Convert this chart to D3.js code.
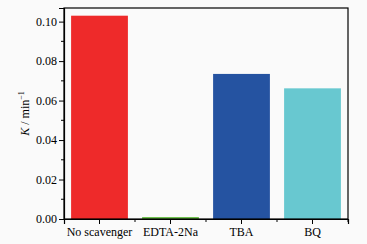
<!DOCTYPE html>
<html>
<head>
<meta charset="utf-8">
<script src="https://cdn.jsdelivr.net/npm/d3@7"></script>
<style>
  html, body { margin: 0; padding: 0; background: #fafafa; }
  svg text { font-family: "Liberation Serif", "Times New Roman", Times, "DejaVu Serif", serif; }
</style>
</head>
<body>
<div id="chart"></div>
<script>
// data
const categories = ["No scavenger", "EDTA-2Na", "TBA", "BQ"];
const rates = [0.103, 0.001, 0.0735, 0.0662];
const barColors = ["#ee2a2a", "#6cc04a", "#2553a1", "#68c8d0"];
const yTicks = [0, 0.02, 0.04, 0.06, 0.08, 0.10];

const serif = '"Liberation Serif", "Times New Roman", Times, "DejaVu Serif", serif';
const W = 367, H = 244;
const margin = {top: 8, right: 19, bottom: 25, left: 64};
const width = W - margin.left - margin.right;
const height = H - margin.top - margin.bottom;

const svg = d3.select("#chart").append("svg")
    .attr("width", W).attr("height", H)
    .style("background", "#fafafa");

const g = svg.append("g")
    .attr("transform", "translate(" + margin.left + "," + margin.top + ")");

const x = d3.scaleBand()
    .domain(categories)
    .range([0, width])
    .paddingInner(0.2)
    .paddingOuter(0.1);

const y = d3.scaleLinear()
    .domain([0, 0.1069])
    .range([height, 0]);

// bars
g.selectAll(".bar")
    .data(categories)
    .enter().append("rect")
    .attr("class", "bar")
    .attr("x", d => x(d))
    .attr("width", x.bandwidth())
    .attr("y", (d, i) => y(rates[i]))
    .attr("height", (d, i) => y(0) - y(rates[i]))
    .attr("fill", (d, i) => barColors[i]);

// frame
g.append("rect")
    .attr("width", width).attr("height", height)
    .attr("fill", "none").attr("stroke", "#000").attr("stroke-width", 1.2);

// y axis with minor ticks
const yAxis = d3.axisLeft(y).tickValues(yTicks).tickFormat(d3.format(".2f")).tickSize(5).tickPadding(2);
const yg = g.append("g").call(yAxis);
const yMinor = yTicks.slice(0, -1).map(v => v + 0.01);
yg.selectAll(".minor").data(yMinor).enter().append("line")
    .attr("class", "minor")
    .attr("x1", 0).attr("x2", -3)
    .attr("y1", d => y(d)).attr("y2", d => y(d))
    .attr("stroke", "#000");

// x axis: ticks at band centers, minor ticks at boundaries
const step = x.step();
const xAxis = d3.axisBottom(x).tickSize(5).tickPadding(3);
const xg = g.append("g").attr("transform", "translate(0," + height + ")").call(xAxis);
const xMinor = d3.range(1, categories.length + 1).map(i => i * step);
xg.selectAll(".minor").data(xMinor).enter().append("line")
    .attr("class", "minor")
    .attr("x1", d => d).attr("x2", d => d)
    .attr("y1", 0).attr("y2", 3)
    .attr("stroke", "#000");

[yg, xg].forEach(a => {
    a.attr("font-family", serif).attr("font-size", 12);
    a.select(".domain").attr("stroke", "#000").attr("stroke-width", 1.2);
    a.selectAll("text").style("font-family", serif).style("font-size", "12px").attr("fill", "#000");
});

// y label
const lab = svg.append("text")
    .attr("transform", "translate(29," + (margin.top + height / 2) + ") rotate(-90)")
    .attr("text-anchor", "middle")
    .style("font-family", serif)
    .style("font-size", "12px");
lab.append("tspan").style("font-style", "italic").text("K");
lab.append("tspan").text(" / min");
lab.append("tspan").attr("dy", -5).style("font-size", "8px").text("\u22121");
</script>
</body>
</html>
